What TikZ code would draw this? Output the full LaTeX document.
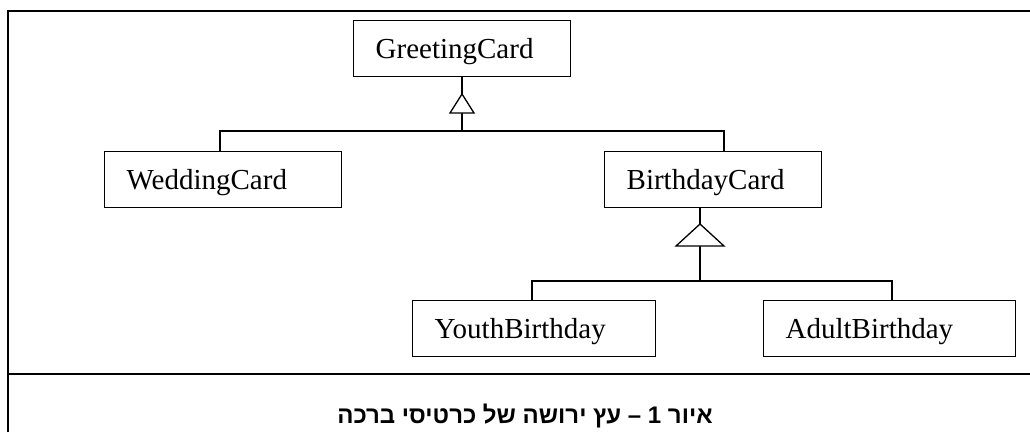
\documentclass[tikz,border=0pt]{standalone}
\usepackage{fontspec}
\setmainfont{Liberation Serif}
\newfontfamily\hebfont[Script=Hebrew]{Liberation Sans}
\TeXXeTstate=1
\begin{document}
\begin{tikzpicture}[x=1pt,y=-1pt,
  frame/.style={line width=2pt},
  link/.style={line width=1.3pt},
  cls/.style={draw, line width=1.3pt, anchor=north west,
    inner xsep=22pt, inner ysep=0pt, align=left,
    text height=38pt, text depth=18pt,
    font=\fontsize{29}{34}\selectfont},
  gen/.style={link, fill=white}]
\useasboundingbox (0,0) rectangle (1030,432);

% outer frame and caption separator
\draw[frame] (8,432) -- (8,11) -- (1030,11);
\draw[frame] (8,373.5) -- (1030,373.5);

% classes
\node[cls, text width=173pt] (G)  at (353,19.5) {GreetingCard};
\node[cls, text width=193pt] (Wd) at (104,151)  {WeddingCard};
\node[cls, text width=173pt] (B)  at (604,151)  {BirthdayCard};
\node[cls, text width=199pt] (Y)  at (412,300)  {YouthBirthday};
\node[cls, text width=208pt] (A)  at (763,300)  {AdultBirthday};

% first inheritance tree
\coordinate (t1)  at (462,94);
\coordinate (j1)  at (462,131);
\coordinate (b1l) at (220,131);
\coordinate (b1r) at (724,131);
\draw[link] (t1 |- G.south) -- (j1);
\draw[link] (b1l |- Wd.north) -- (b1l) -- (b1r) -- (b1r |- B.north);
\draw[gen] (t1) -- ++(12,19) -- ++(-24,0) -- cycle;

% second inheritance tree
\coordinate (t2)  at (700,224);
\coordinate (j2)  at (700,281);
\coordinate (b2l) at (532,281);
\coordinate (b2r) at (892,281);
\draw[link] (t2 |- B.south) -- (j2);
\draw[link] (b2l |- Y.north) -- (b2l) -- (b2r) -- (b2r |- A.north);
\draw[gen] (t2) -- ++(24,22) -- ++(-48,0) -- cycle;

% caption
\node[anchor=base, inner sep=0pt, font=\hebfont\bfseries\fontsize{24}{28}\selectfont] (cap) at (525,423)
  {\beginR איור 1 – עץ ירושה של כרטיסי ברכה\endR};
\end{tikzpicture}
\end{document}
